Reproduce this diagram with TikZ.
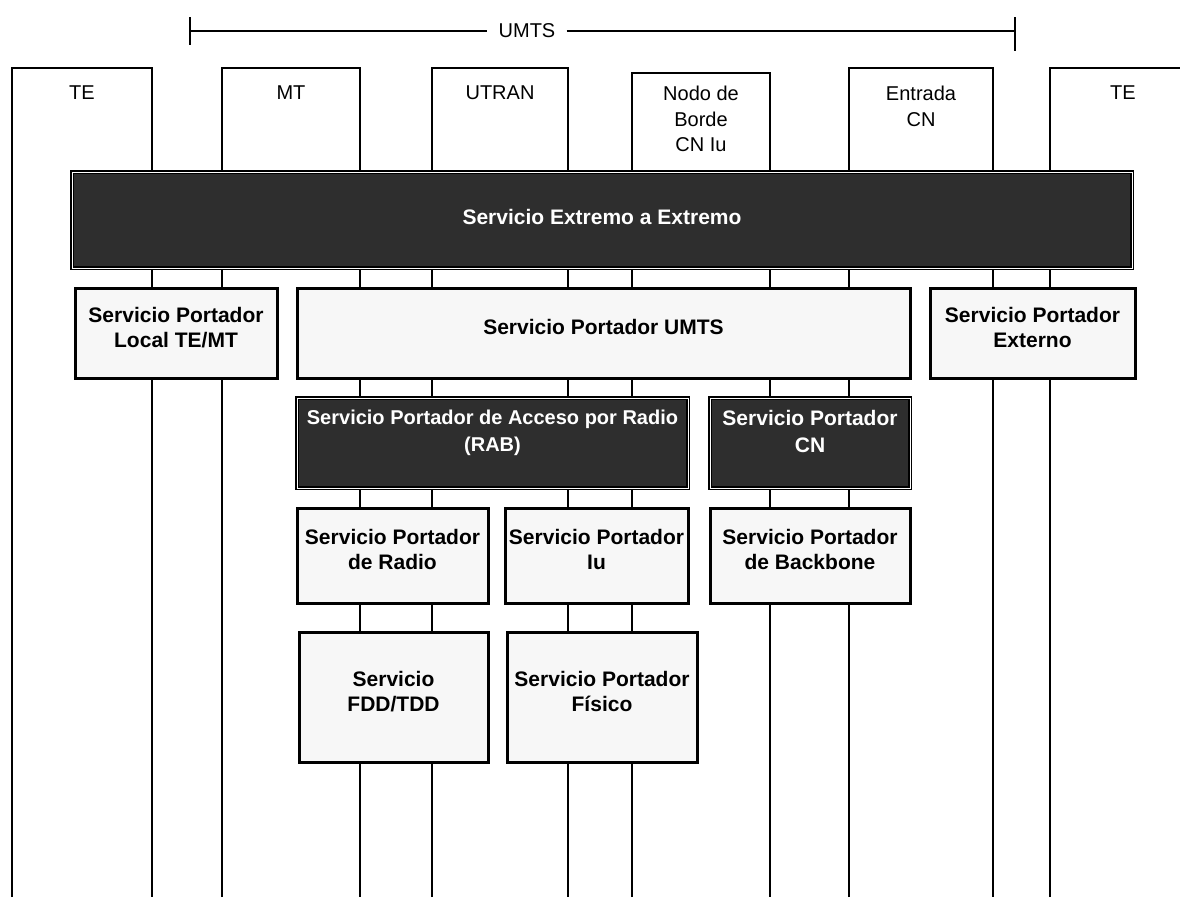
\documentclass[tikz,border=0pt]{standalone}
\usepackage{fontspec}
\setmainfont{Liberation Sans}

\begin{document}
\begin{tikzpicture}[x=1pt, y=-1pt,
    entity/.style={anchor=north west, minimum height=104pt, inner sep=0pt, outer sep=0pt},
    entlabel/.style={anchor=north, yshift=-18pt, align=center, inner sep=0pt,
      font=\fontsize{20}{25.5}\selectfont},
    bearer/.style={draw, line width=3pt, anchor=north west, outer sep=0pt, inner sep=0pt,
      fill=black!3, align=center, text depth=12pt, font=\bfseries\fontsize{21}{25}\selectfont},
    darkbearer/.style={bearer, line width=1.7pt, double=white, double distance=1pt,
      fill=black!82, text=white},
    link/.style={line width=2.9pt}]
  \useasboundingbox (0,0) rectangle (1180,897);
  \clip (0,0) rectangle (1180,897);
  \fill[white] (0,0) rectangle (1180,897);

  \coordinate (floor) at (0,897);
  \coordinate (umtsL) at (190,31);
  \coordinate (umtsR) at (1015,31);
  \node[font=\fontsize{20}{24}\selectfont, inner xsep=11pt] (umts) at (527,31) {UMTS};
  \draw[line width=2pt] (umtsL) -- (umts.west) (umts.east) -- (umtsR);
  \draw[link] ([yshift=14pt]umtsL) -- ([yshift=-14pt]umtsL);
  \draw[link] ([yshift=14pt]umtsR) -- ([yshift=-20pt]umtsR);

  \node[entity, minimum width=140pt, label={[entlabel]north:TE}] (teL) at (12,68) {};
  \node[entity, minimum width=138pt, label={[entlabel]north:MT}] (mt) at (222,68) {};
  \node[entity, minimum width=136pt, label={[entlabel]north:UTRAN}] (utran) at (432,68) {};
  \node[entity, minimum width=138pt, minimum height=99pt,
    label={[entlabel, yshift=5pt]north:Nodo de\\Borde\\CN Iu}] (nodo) at (632,73) {};
  \node[entity, minimum width=144pt, label={[entlabel]north:Entrada\\CN}] (entrada) at (849,68) {};
  \node[entity, minimum width=146pt, label={[entlabel]north:TE}] (teR) at (1050,68) {};

  \foreach \e in {teL, mt, utran, nodo, entrada}
    \draw[link] (\e.south west |- floor) |- (\e.north east) -- (\e.south east |- floor);
  \draw[link] (teR.south west |- floor) |- (teR.north east);

  \node[darkbearer, text depth=7pt, minimum width=1060pt, minimum height=96pt] (e2e) at (72,172)
    {Servicio Extremo a Extremo};
  \node[bearer, minimum width=202pt, minimum height=90pt] (local) at (75,288)
    {Servicio Portador\\Local TE/MT};
  \node[bearer, minimum width=613pt, minimum height=90pt] (umtsb) at (297,288)
    {Servicio Portador UMTS};
  \node[bearer, minimum width=205pt, minimum height=90pt] (ext) at (930,288)
    {Servicio Portador\\Externo};
  \node[darkbearer, text depth=24pt, font=\bfseries\fontsize{20}{27}\selectfont,
    minimum width=391pt, minimum height=90pt] (rab) at (297,398)
    {Servicio Portador de Acceso por Radio\\(RAB)};
  \node[darkbearer, text depth=24pt, font=\bfseries\fontsize{21}{27}\selectfont,
    minimum width=200pt, minimum height=90pt] (cn) at (710,398)
    {Servicio Portador\\CN};
  \node[bearer, minimum width=191pt, minimum height=95pt] (radio) at (297,508)
    {Servicio Portador\\de Radio};
  \node[bearer, minimum width=183pt, minimum height=95pt] (iu) at (505,508)
    {Servicio Portador\\Iu};
  \node[bearer, minimum width=200pt, minimum height=95pt] (backbone) at (710,508)
    {Servicio Portador\\de Backbone};
  \node[bearer, minimum width=189pt, minimum height=130pt] (fdd) at (299,632)
    {Servicio\\FDD/TDD};
  \node[bearer, minimum width=190pt, minimum height=130pt] (fisico) at (507,632)
    {Servicio Portador\\Físico};
\end{tikzpicture}
\end{document}
